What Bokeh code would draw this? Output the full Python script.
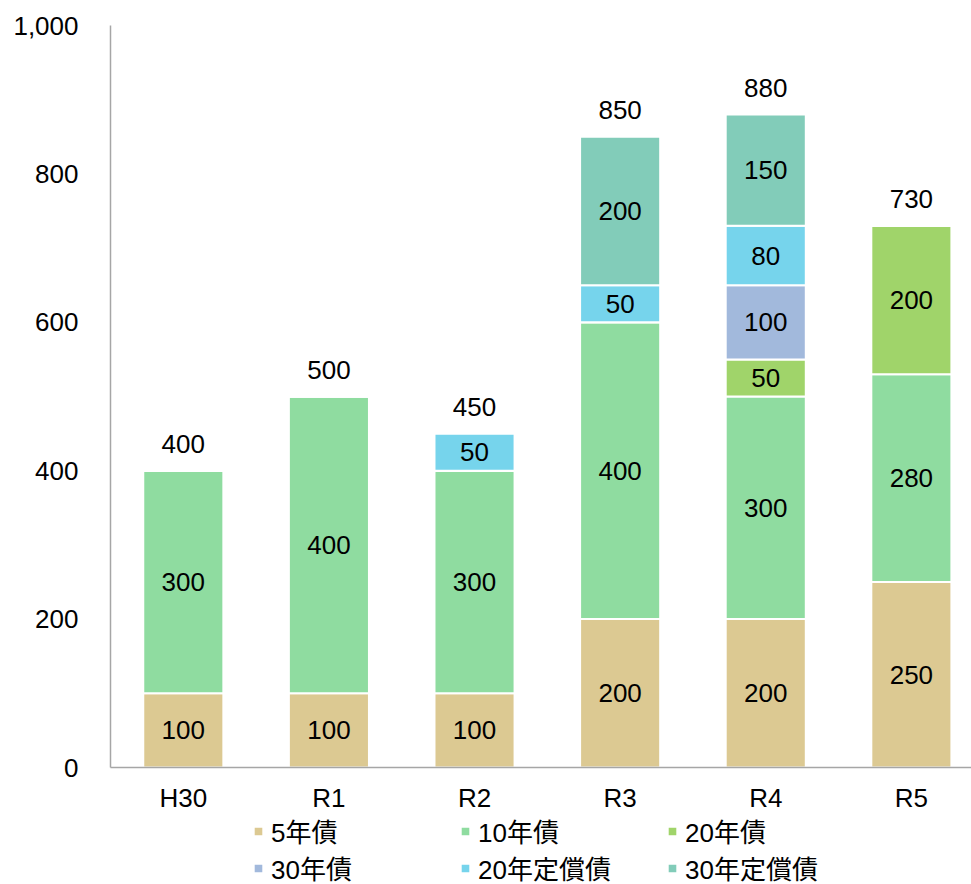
from bokeh.plotting import figure
from bokeh.models import Range1d, FixedTicker, NumeralTickFormatter, Legend, LegendItem, ColumnDataSource
from bokeh.layouts import column
from bokeh.core.properties import value
from bokeh.embed import file_html
from bokeh.resources import INLINE

categories = ["H30", "R1", "R2", "R3", "R4", "R5"]
series_names = ["5年債", "10年債", "20年債", "30年債", "20年定償債", "30年定償債"]
bond5 = [100, 100, 100, 200, 200, 250]
bond10 = [300, 400, 300, 400, 300, 280]
bond20 = [0, 0, 0, 0, 50, 200]
bond30 = [0, 0, 0, 0, 100, 0]
teisho20 = [0, 0, 50, 50, 80, 0]
teisho30 = [0, 0, 0, 200, 150, 0]
colors = ["#DCC992", "#8FDCA0", "#A0D46A", "#A2B9DC", "#76D4EC", "#82CCB9"]

FONT = "'Liberation Sans', Arial, 'Noto Sans CJK JP', sans-serif"
FS = "26px"

series = [bond5, bond10, bond20, bond30, teisho20, teisho30]
keys = ["s%d" % i for i in range(len(series))]
xpos = [i + 0.5 for i in range(len(categories))]

data = {"x": xpos}
for k, s in zip(keys, series):
    data[k] = s
source = ColumnDataSource(data)

p = figure(width=971, height=815, output_backend="svg", toolbar_location=None,
           x_range=Range1d(0, 5.913), y_range=Range1d(0, 1000),
           min_border_left=110, min_border_right=0, min_border_top=25, min_border_bottom=47)
p.outline_line_color = None
p.xgrid.visible = False
p.ygrid.visible = False

renderers = p.vbar_stack(keys, x="x", width=0.55, source=source, color=colors,
                         line_color="white", line_width=2)

# segment labels
lx, ly, lt = [], [], []
for i in range(len(categories)):
    base = 0
    for s in series:
        v = s[i]
        if v > 0:
            lx.append(xpos[i]); ly.append(base + v / 2); lt.append(str(v))
        base += v
p.text(x=lx, y=ly, text=lt, text_align="center", text_baseline="middle",
       text_font=value(FONT), text_font_size=FS, text_color="black")

totals = [sum(s[i] for s in series) for i in range(len(categories))]
p.text(x=xpos, y=totals, text=[str(t) for t in totals], text_align="center",
       text_baseline="alphabetic", y_offset=-27,
       text_font=value(FONT), text_font_size=FS, text_color="black")

# axes
p.xaxis.ticker = FixedTicker(ticks=xpos)
p.xaxis.major_label_overrides = {x: c for x, c in zip(xpos, categories)}
p.yaxis.ticker = FixedTicker(ticks=[0, 200, 400, 600, 800, 1000])
p.yaxis.formatter = NumeralTickFormatter(format="0,0")
for ax in (p.xaxis[0], p.yaxis[0]):
    ax.axis_line_color = "#A6A6A6"
    ax.axis_line_width = 1.5
    ax.major_tick_line_color = None
    ax.minor_tick_line_color = None
    ax.major_label_text_font = FONT
    ax.major_label_text_font_size = FS
    ax.major_label_text_color = "black"
p.xaxis.major_label_standoff = 9
p.yaxis.major_label_standoff = 26

# legend panel (separate figure below the chart); its bars fall outside its range
lg = figure(width=971, height=69, output_backend="svg", toolbar_location=None,
            x_range=Range1d(100, 101), y_range=Range1d(5000, 5001),
            min_border_left=0, min_border_right=0, min_border_top=0, min_border_bottom=0)
lg.axis.visible = False
lg.grid.visible = False
lg.outline_line_color = None
lg_renderers = lg.vbar_stack(keys, x="x", width=0.55, source=source, color=colors,
                             line_color="white", line_width=2)
order = [0, 3, 1, 4, 2, 5]  # row-major order in a 3-column grid
items = [LegendItem(label=series_names[i], renderers=[lg_renderers[i]]) for i in order]
legend = Legend(items=items, ncols=3, location=(142, -2), padding=0, spacing=0,
                glyph_width=12, glyph_height=12, label_standoff=7, label_width=188,
                label_height=30, label_text_font=FONT, label_text_font_size=FS,
                label_text_color="black", border_line_color=None, background_fill_alpha=0,
                margin=0)
lg.add_layout(legend, "center")

layout = column(p, lg, spacing=0)
open("out.html", "w").write(file_html(layout, INLINE))
